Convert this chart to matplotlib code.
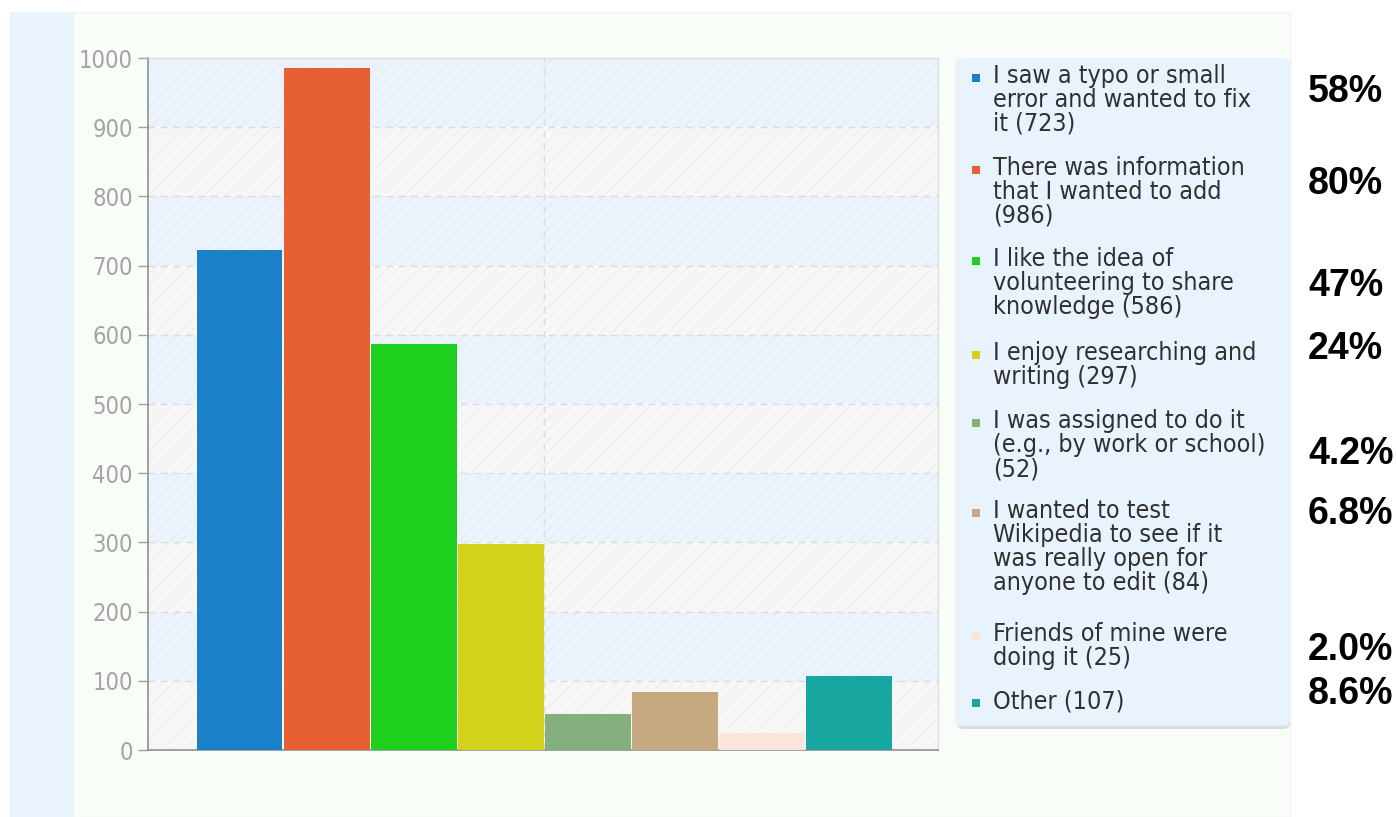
import numpy as np
import matplotlib.pyplot as plt
from matplotlib.patches import Rectangle, FancyBboxPatch

# survey answers (counts), one bar each
labels = ["I saw a typo or small\nerror and wanted to fix\nit (723)",
          "There was information\nthat I wanted to add\n(986)",
          "I like the idea of\nvolunteering to share\nknowledge (586)",
          "I enjoy researching and\nwriting (297)",
          "I was assigned to do it\n(e.g., by work or school)\n(52)",
          "I wanted to test\nWikipedia to see if it\nwas really open for\nanyone to edit (84)",
          "Friends of mine were\ndoing it (25)",
          "Other (107)"]
counts = [723, 986, 586, 297, 52, 84, 25, 107]
percents = ["58%", "80%", "47%", "24%", "4.2%", "6.8%", "2.0%", "8.6%"]
colors = ["#1a80c8", "#e66033", "#1ecf1e", "#d2d21a",
          "#84b07e", "#c6a981", "#f9e5db", "#17a6a0"]
yticks = [0, 100, 200, 300, 400, 500, 600, 700, 800, 900, 1000]

W, H = 1396, 817
fig = plt.figure(figsize=(W/100, H/100), dpi=100)
fig.patch.set_facecolor("white")
plt.rcParams['hatch.linewidth'] = 0.6

def fx(px):
    return px / W

def fy(py):
    return 1 - py / H

# page backgrounds
fig.patches.append(Rectangle((fx(10), 0), fx(63), fy(12), transform=fig.transFigure,
                             facecolor="#e9f4fe", edgecolor="none", zorder=0))
fig.patches.append(Rectangle((fx(73), 0), fx(1290-73), fy(12), transform=fig.transFigure,
                             facecolor="#f9fdf8", edgecolor="#eef2ee", lw=0.8, zorder=0))

ax = fig.add_axes([fx(148), fy(750), fx(938-148), (750-58)/H])
ax.set_zorder(5)
ax.set_facecolor("#f7f7f7")

# alternating bands
for i in range(10):
    if i % 2 == 1:
        fc, hc = "#ebf3fc", "#e2eaf4"
    else:
        fc, hc = "#f7f7f7", "#ececec"
    ax.axhspan(i*100, (i+1)*100, facecolor=fc, edgecolor=hc, hatch="///", lw=0, zorder=0)

for t in yticks[1:-1]:
    ax.axhline(t, color="#dcdcdc", lw=1, ls=(0, (5, 4)), zorder=1)
ax.axvline(3.5, color="#dcdcdc", lw=1, ls=(0, (5, 4)), zorder=1)

x = np.arange(len(counts))
ax.bar(x, counts, width=0.985, color=colors, edgecolor="none", zorder=3)

ax.set_xlim(-1.051, 8.017)
ax.set_ylim(0, 1000)
ax.set_yticks(yticks)
ax.set_xticks([])
ax.tick_params(axis='y', length=7, width=1, color="#a0a0a0", labelcolor="#a4a4a4",
               pad=4)
for t in ax.get_yticklabels():
    t.set_fontsize(17)
    t.set_fontstretch("condensed")
for s in ["top", "right"]:
    ax.spines[s].set_color("#dddddd")
    ax.spines[s].set_linewidth(1)
for s in ["left", "bottom"]:
    ax.spines[s].set_color("#909090")
    ax.spines[s].set_linewidth(1.2)

# legend box
fig.patches.append(FancyBboxPatch((fx(957), fy(729)), fx(1290-957), (729-60)/H,
                                  boxstyle="round,pad=0,rounding_size=0.006",
                                  transform=fig.transFigure, facecolor="#dcdcdc",
                                  edgecolor="none", zorder=1))
fig.patches.append(FancyBboxPatch((fx(955), fy(726)), fx(1290-955), (726-58)/H,
                                  boxstyle="round,pad=0,rounding_size=0.006",
                                  transform=fig.transFigure, facecolor="#e9f3fe",
                                  edgecolor="none", zorder=2))

entry_top = [64, 156, 247, 341, 409, 499, 622, 689]
for lab, c, top in zip(labels, colors, entry_top):
    fig.patches.append(Rectangle((fx(972), fy(top + 18)), fx(8), 8/H,
                                 transform=fig.transFigure, facecolor=c,
                                 edgecolor="none", zorder=3))
    fig.text(fx(993), fy(top), lab, ha="left", va="top", fontsize=18,
             fontstretch="condensed", color="#303030", linespacing=1.0, zorder=4)

pct_center = [90, 181, 284, 346, 452, 511, 647, 692]
for p, cy in zip(percents, pct_center):
    fig.text(fx(1308), fy(cy + 12.5), p, ha="left", va="baseline", fontsize=27,
             fontweight="bold", family="Liberation Sans", color="black")

fig.savefig("out.png", dpi=100)
